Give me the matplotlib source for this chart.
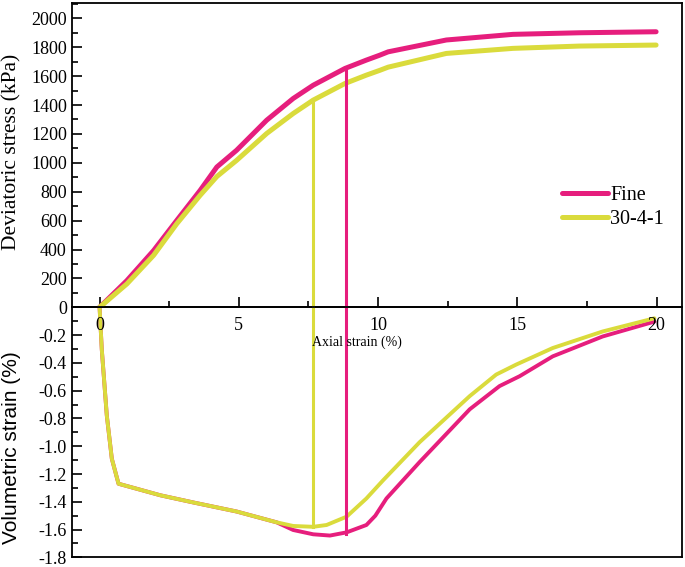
import numpy as np
import matplotlib
matplotlib.use("Agg")
import matplotlib.pyplot as plt
from matplotlib.ticker import MultipleLocator

# Deviatoric stress vs axial strain
strain_q = [0, 0.98, 1.94, 2.77, 3.61, 4.21, 4.92, 6.0, 6.95, 7.67, 8.81,
            9.58, 10.06, 10.36, 12.45, 14.84, 17.23, 19.98]
q_fine = [0, 185, 393, 601, 809, 971, 1087, 1295, 1445, 1537, 1653,
          1711, 1745, 1768, 1850, 1889, 1900, 1907]
q_3041 = [0, 162, 360, 578, 775, 905, 1017, 1203, 1341, 1434, 1549,
          1607, 1640, 1662, 1757, 1792, 1808, 1815]

# Volumetric strain vs axial strain
strain_v_fine = [0, 0.08, 0.26, 0.44, 0.68, 2.18, 3.37, 4.92, 6.36, 6.95,
                 7.67, 8.27, 8.87, 9.58, 9.9, 10.3, 11.49, 13.29, 14.36,
                 15.08, 16.27, 18.06, 19.92]
vol_fine = [0, -0.305, -0.78, -1.09, -1.27, -1.353, -1.405, -1.47, -1.548,
            -1.603, -1.634, -1.643, -1.62, -1.567, -1.50, -1.376, -1.114,
            -0.734, -0.567, -0.496, -0.353, -0.21, -0.103]
strain_v_3041 = [0, 0.08, 0.26, 0.44, 0.68, 2.18, 3.37, 4.92, 6.36, 6.95,
                 7.67, 8.15, 8.87, 9.58, 10.18, 11.49, 13.29, 14.24, 14.96,
                 16.27, 18.06, 19.92]
vol_3041 = [0, -0.305, -0.78, -1.09, -1.27, -1.353, -1.405, -1.47, -1.548,
            -1.574, -1.58, -1.567, -1.507, -1.376, -1.245, -0.971, -0.639,
            -0.484, -0.412, -0.293, -0.174, -0.079]

# Peak markers (vertical lines)
peak_x = [8.83, 7.67]
peak_q = [1653, 1434]
peak_v = [-1.63, -1.58]

vol_ticks = [-1.8, -1.6, -1.4, -1.2, -1.0, -0.8, -0.6, -0.4, -0.2, 0.0]
vol_labels = ["-1.8", "-1.6", "-1.4", "-1.2", "-1.0", "-0.8", "-0.6",
              "-0.4", "-0.2", ""]

magenta = "#E61E7D"
yellow = "#DADB3C"
colors = [magenta, yellow]

plt.rcParams["font.family"] = ["Liberation Serif", "DejaVu Serif"]
plt.rcParams["axes.unicode_minus"] = False

fig = plt.figure(figsize=(6.85, 5.67), dpi=100)
ax1 = fig.add_axes([0.1047, 0.458, 0.8905, 0.5362])
ax2 = fig.add_axes([0.1047, 0.017, 0.8905, 0.441])
ax1.set_zorder(3)
ax1.patch.set_alpha(0)

ax1.plot(strain_q, q_fine, color=magenta, lw=3.6, solid_capstyle="round",
         label="Fine")
ax1.plot(strain_q, q_3041, color=yellow, lw=3.6, solid_capstyle="round",
         label="30-4-1")
ax2.plot(strain_v_fine, vol_fine, color=magenta, lw=2.8, solid_capstyle="round")
ax2.plot(strain_v_3041, vol_3041, color=yellow, lw=2.8, solid_capstyle="round")

for x, q, v, c in zip(peak_x, peak_q, peak_v, colors):
    ax1.plot([x, x], [0, q], color=c, lw=2.2, clip_on=False)
    ax2.plot([x, x], [0, v], color=c, lw=2.2)

ax1.set_xlim(-1, 20.9)
ax2.set_xlim(-1, 20.9)
ax1.set_ylim(0, 2104)
ax2.set_ylim(-1.8, 0)

# top panel ticks
ax1.xaxis.set_major_locator(MultipleLocator(5))
ax1.xaxis.set_minor_locator(MultipleLocator(2.5))
ax1.yaxis.set_major_locator(MultipleLocator(200))
ax1.yaxis.set_minor_locator(MultipleLocator(100))
ax1.tick_params(axis="both", which="major", direction="in", length=7,
                width=1.2, labelsize=13)
ax1.tick_params(axis="both", which="minor", direction="in", length=4,
                width=1.2)
ax1.tick_params(axis="x", which="major", pad=7)

# bottom panel ticks
ax2.set_xticks([])
ax2.set_yticks(vol_ticks)
ax2.set_yticklabels(vol_labels)
ax2.yaxis.set_minor_locator(MultipleLocator(0.1))
ax2.tick_params(axis="y", which="major", direction="in", length=7,
                width=1.2, labelsize=13)
ax2.tick_params(axis="y", which="minor", direction="in", length=4, width=1.2)

for ax in (ax1, ax2):
    for sp in ax.spines.values():
        sp.set_linewidth(1.3)

ax1.set_ylabel("Deviatoric stress (kPa)", fontsize=15.5)
ax2.set_ylabel("Volumetric strain (%)", fontsize=15,
               family=["Liberation Sans", "DejaVu Sans"])
ax1.yaxis.set_label_coords(-0.083, 0.51)
ax2.yaxis.set_label_coords(-0.083, 0.44)

ax2.text(9.24, -0.255, "Axial strain (%)", ha="center", va="center",
         fontsize=10, zorder=5)

ax1.legend(loc="upper left", bbox_to_anchor=(0.79, 0.425), frameon=False,
           fontsize=14.5, handlelength=2.3, handletextpad=0.1,
           labelspacing=0.25, borderaxespad=0)

fig.savefig("out.png", dpi=100)
